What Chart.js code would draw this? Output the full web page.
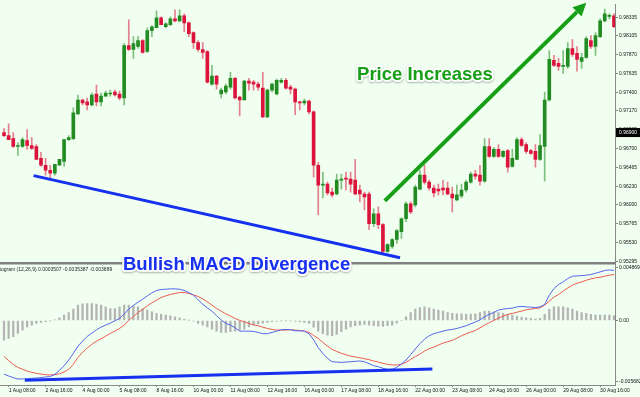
<!DOCTYPE html>
<html>
<head>
<meta charset="utf-8">
<script src="https://cdn.jsdelivr.net/npm/chart.js@4.4.1/dist/chart.umd.min.js"></script>
<style>
  html, body { margin: 0; padding: 0; background: #f0fff0; }
  #wrap { width: 640px; height: 397px; }
</style>
</head>
<body>
<div id="wrap"><canvas id="macd-chart" width="640" height="397"></canvas></div>
<script>
// H4 candles, one per bar (bar 1 = 1 Aug 08:00)
const openPrices = [
  0.96899, 0.96862, 0.96825, 0.96727, 0.96727, 0.96801, 0.96739, 0.96727, 0.96579, 0.96493,
  0.96431, 0.96394, 0.96493, 0.96542, 0.96813, 0.96825, 0.97133, 0.97305, 0.97281, 0.97244,
  0.97379, 0.97281, 0.97354, 0.97379, 0.97404, 0.97379, 0.97330, 0.97982, 0.97933, 0.97970,
  0.98044, 0.97908, 0.98167, 0.98204, 0.98327, 0.98216, 0.98241, 0.98314, 0.98290, 0.98351,
  0.98265, 0.98142, 0.98019, 0.97933, 0.97908, 0.97502, 0.97601, 0.97379, 0.97404, 0.97465,
  0.97576, 0.97342, 0.97305, 0.97539, 0.97527, 0.97502, 0.97453, 0.97096, 0.97428, 0.97379,
  0.97527, 0.97551, 0.97465, 0.97441, 0.97281, 0.97268, 0.97293, 0.97157, 0.96493, 0.96247,
  0.96259, 0.96160, 0.96136, 0.96308, 0.96333, 0.96320, 0.96308, 0.96185, 0.96136, 0.96136,
  0.95767, 0.95890, 0.95754, 0.95422, 0.95484, 0.95570, 0.95668, 0.95828, 0.96013, 0.96000,
  0.96197, 0.96370, 0.96284, 0.96210, 0.96197, 0.96210, 0.96210, 0.96136, 0.96062, 0.96111,
  0.96185, 0.96284, 0.96382, 0.96370, 0.96296, 0.96727, 0.96604, 0.96690, 0.96604, 0.96677,
  0.96480, 0.96567, 0.96813, 0.96751, 0.96677, 0.96665, 0.96567, 0.96727, 0.97305, 0.97797,
  0.97761, 0.97724, 0.97724, 0.97945, 0.97884, 0.97785, 0.97834, 0.98044, 0.97970, 0.98093,
  0.98290, 0.98345, 0.98351
];
const highPrices = [
  0.96948, 0.97010, 0.96899, 0.96776, 0.96837, 0.96936, 0.96837, 0.96751, 0.96653, 0.96579,
  0.96493, 0.96505, 0.96567, 0.96813, 0.96862, 0.97207, 0.97367, 0.97317, 0.97330, 0.97391,
  0.97490, 0.97391, 0.97416, 0.97428, 0.97428, 0.97416, 0.98007, 0.98302, 0.98093, 0.98093,
  0.98056, 0.98204, 0.98228, 0.98413, 0.98339, 0.98265, 0.98339, 0.98425, 0.98425, 0.98376,
  0.98277, 0.98154, 0.98044, 0.98019, 0.97921, 0.97736, 0.97613, 0.97453, 0.97502, 0.97650,
  0.97588, 0.97354, 0.97551, 0.97576, 0.97551, 0.97527, 0.97650, 0.97441, 0.97514, 0.97564,
  0.97576, 0.97576, 0.97490, 0.97453, 0.97293, 0.97317, 0.97305, 0.97170, 0.96530, 0.96407,
  0.96284, 0.96210, 0.96382, 0.96382, 0.96407, 0.96407, 0.96567, 0.96247, 0.96160, 0.96160,
  0.95951, 0.95976, 0.95767, 0.95520, 0.95582, 0.95693, 0.95840, 0.96037, 0.96037, 0.96247,
  0.96431, 0.96493, 0.96308, 0.96247, 0.96259, 0.96308, 0.96284, 0.96222, 0.96247, 0.96259,
  0.96308, 0.96407, 0.96431, 0.96493, 0.96825, 0.96825, 0.96714, 0.96751, 0.96677, 0.96690,
  0.96690, 0.96837, 0.96837, 0.96776, 0.96690, 0.96751, 0.96874, 0.97404, 0.97921, 0.97859,
  0.97822, 0.97921, 0.98019, 0.98056, 0.97970, 0.97884, 0.98093, 0.98105, 0.98142, 0.98314,
  0.98437, 0.98376, 0.98376
];
const lowPrices = [
  0.96850, 0.96813, 0.96714, 0.96616, 0.96714, 0.96690, 0.96690, 0.96567, 0.96480, 0.96370,
  0.96333, 0.96370, 0.96493, 0.96480, 0.96801, 0.96813, 0.97121, 0.97244, 0.97182, 0.97231,
  0.97231, 0.97231, 0.97354, 0.97354, 0.97354, 0.97305, 0.97244, 0.97921, 0.97822, 0.97945,
  0.97884, 0.97896, 0.98093, 0.98204, 0.98241, 0.98204, 0.98228, 0.98277, 0.98277, 0.98154,
  0.98093, 0.97945, 0.97908, 0.97822, 0.97514, 0.97490, 0.97441, 0.97330, 0.97379, 0.97441,
  0.97317, 0.97108, 0.97305, 0.97428, 0.97428, 0.97428, 0.97084, 0.97084, 0.97404, 0.97367,
  0.97514, 0.97441, 0.97379, 0.97121, 0.97182, 0.97244, 0.97133, 0.96345, 0.95877, 0.96087,
  0.96124, 0.96099, 0.96124, 0.96197, 0.96185, 0.96160, 0.96124, 0.96037, 0.95939, 0.95693,
  0.95730, 0.95705, 0.95398, 0.95410, 0.95459, 0.95520, 0.95582, 0.95791, 0.95890, 0.95976,
  0.96185, 0.96259, 0.96185, 0.96099, 0.96124, 0.96124, 0.96124, 0.95914, 0.96050, 0.96087,
  0.96160, 0.96271, 0.96320, 0.96247, 0.96284, 0.96591, 0.96591, 0.96591, 0.96591, 0.96407,
  0.96468, 0.96567, 0.96727, 0.96641, 0.96628, 0.96468, 0.96554, 0.96296, 0.97293, 0.97724,
  0.97674, 0.97637, 0.97699, 0.97847, 0.97662, 0.97699, 0.97822, 0.97945, 0.97859, 0.98081,
  0.98277, 0.98314, 0.98204
];
const closePrices = [
  0.96862, 0.96813, 0.96727, 0.96739, 0.96813, 0.96739, 0.96702, 0.96567, 0.96493, 0.96431,
  0.96394, 0.96505, 0.96567, 0.96813, 0.96837, 0.97145, 0.97305, 0.97268, 0.97244, 0.97367,
  0.97281, 0.97354, 0.97391, 0.97391, 0.97367, 0.97330, 0.97982, 0.97933, 0.98007, 0.98044,
  0.97896, 0.98167, 0.98216, 0.98327, 0.98241, 0.98253, 0.98314, 0.98290, 0.98351, 0.98265,
  0.98130, 0.98019, 0.97933, 0.97896, 0.97527, 0.97601, 0.97502, 0.97428, 0.97477, 0.97576,
  0.97330, 0.97305, 0.97539, 0.97514, 0.97502, 0.97465, 0.97096, 0.97428, 0.97502, 0.97551,
  0.97551, 0.97453, 0.97441, 0.97281, 0.97268, 0.97293, 0.97157, 0.96493, 0.96247, 0.96259,
  0.96148, 0.96124, 0.96308, 0.96320, 0.96320, 0.96259, 0.96136, 0.96136, 0.96099, 0.95767,
  0.95890, 0.95754, 0.95422, 0.95508, 0.95570, 0.95680, 0.95828, 0.96013, 0.95914, 0.96222,
  0.96370, 0.96284, 0.96210, 0.96148, 0.96173, 0.96185, 0.96136, 0.96087, 0.96124, 0.96185,
  0.96284, 0.96382, 0.96357, 0.96296, 0.96727, 0.96604, 0.96690, 0.96604, 0.96665, 0.96468,
  0.96579, 0.96813, 0.96739, 0.96665, 0.96641, 0.96567, 0.96739, 0.97305, 0.97810, 0.97736,
  0.97724, 0.97736, 0.97945, 0.97871, 0.97810, 0.97834, 0.98068, 0.97970, 0.98105, 0.98290,
  0.98376, 0.98357, 0.98216
];

// MACD Histogram (12,26,9): main line, signal line, histogram
const macdMain = [
  -0.00497, -0.00515, -0.00531, -0.00543, -0.00543, -0.00540, -0.00537, -0.00534, -0.00531, -0.00524,
  -0.00521, -0.00500, -0.00463, -0.00420, -0.00367, -0.00305, -0.00238, -0.00191, -0.00148, -0.00117,
  -0.00086, -0.00062, -0.00043, -0.00025, -0.00003, 0.00019, 0.00059, 0.00105, 0.00139, 0.00170,
  0.00197, 0.00228, 0.00256, 0.00278, 0.00287, 0.00290, 0.00293, 0.00293, 0.00290, 0.00278,
  0.00259, 0.00234, 0.00191, 0.00151, 0.00117, 0.00086, 0.00043, 0.00006, -0.00028, -0.00043,
  -0.00068, -0.00099, -0.00099, -0.00099, -0.00102, -0.00111, -0.00123, -0.00123, -0.00111, -0.00099,
  -0.00086, -0.00083, -0.00086, -0.00096, -0.00096, -0.00099, -0.00123, -0.00179, -0.00253, -0.00305,
  -0.00352, -0.00383, -0.00386, -0.00389, -0.00386, -0.00383, -0.00379, -0.00376, -0.00383, -0.00401,
  -0.00420, -0.00429, -0.00444, -0.00453, -0.00453, -0.00435, -0.00404, -0.00367, -0.00318, -0.00265,
  -0.00216, -0.00173, -0.00142, -0.00123, -0.00111, -0.00099, -0.00089, -0.00083, -0.00074, -0.00062,
  -0.00049, -0.00031, -0.00015, 0.00006, 0.00034, 0.00056, 0.00074, 0.00096, 0.00105, 0.00111,
  0.00114, 0.00126, 0.00130, 0.00126, 0.00123, 0.00120, 0.00126, 0.00148, 0.00234, 0.00296,
  0.00333, 0.00358, 0.00389, 0.00410, 0.00413, 0.00416, 0.00420, 0.00426, 0.00438, 0.00450,
  0.00463, 0.00469, 0.00463
];
const macdSignal = [
  -0.00333, -0.00373, -0.00407, -0.00435, -0.00453, -0.00469, -0.00481, -0.00491, -0.00497, -0.00503,
  -0.00506, -0.00503, -0.00494, -0.00478, -0.00453, -0.00407, -0.00342, -0.00296, -0.00256, -0.00222,
  -0.00191, -0.00170, -0.00145, -0.00120, -0.00099, -0.00074, -0.00043, 0.00000, 0.00037, 0.00074,
  0.00102, 0.00136, 0.00164, 0.00188, 0.00213, 0.00228, 0.00241, 0.00250, 0.00259, 0.00259,
  0.00250, 0.00238, 0.00222, 0.00201, 0.00173, 0.00142, 0.00111, 0.00086, 0.00062, 0.00040,
  0.00019, 0.00000, -0.00012, -0.00028, -0.00040, -0.00049, -0.00062, -0.00074, -0.00083, -0.00089,
  -0.00089, -0.00089, -0.00086, -0.00089, -0.00093, -0.00099, -0.00111, -0.00139, -0.00167, -0.00204,
  -0.00238, -0.00268, -0.00287, -0.00305, -0.00318, -0.00330, -0.00339, -0.00346, -0.00355, -0.00364,
  -0.00376, -0.00386, -0.00398, -0.00407, -0.00413, -0.00413, -0.00407, -0.00389, -0.00361, -0.00336,
  -0.00312, -0.00284, -0.00262, -0.00247, -0.00228, -0.00210, -0.00197, -0.00185, -0.00164, -0.00142,
  -0.00123, -0.00108, -0.00093, -0.00068, -0.00043, -0.00022, 0.00000, 0.00022, 0.00040, 0.00056,
  0.00065, 0.00077, 0.00086, 0.00099, 0.00105, 0.00111, 0.00117, 0.00142, 0.00179, 0.00216,
  0.00241, 0.00271, 0.00302, 0.00327, 0.00346, 0.00358, 0.00373, 0.00386, 0.00395, 0.00401,
  0.00410, 0.00420, 0.00426
];
const macdHist = [
  -0.00182, -0.00167, -0.00151, -0.00120, -0.00089, -0.00059, -0.00043, -0.00028, -0.00019, -0.00012,
  -0.00003, 0.00006, 0.00025, 0.00049, 0.00074, 0.00105, 0.00142, 0.00154, 0.00157, 0.00157,
  0.00151, 0.00142, 0.00126, 0.00111, 0.00111, 0.00126, 0.00142, 0.00142, 0.00136, 0.00126,
  0.00111, 0.00096, 0.00080, 0.00065, 0.00056, 0.00049, 0.00043, 0.00034, 0.00025, 0.00012,
  0.00003, -0.00006, -0.00028, -0.00043, -0.00059, -0.00080, -0.00099, -0.00111, -0.00111, -0.00105,
  -0.00099, -0.00089, -0.00080, -0.00059, -0.00043, -0.00031, -0.00025, -0.00019, -0.00012, -0.00006,
  -0.00003, -0.00003, -0.00003, -0.00006, -0.00012, -0.00019, -0.00028, -0.00062, -0.00099, -0.00123,
  -0.00136, -0.00142, -0.00130, -0.00105, -0.00080, -0.00059, -0.00049, -0.00043, -0.00037, -0.00043,
  -0.00049, -0.00052, -0.00056, -0.00049, -0.00043, -0.00025, 0.00000, 0.00034, 0.00074, 0.00105,
  0.00120, 0.00126, 0.00117, 0.00105, 0.00096, 0.00086, 0.00074, 0.00065, 0.00062, 0.00062,
  0.00059, 0.00059, 0.00062, 0.00074, 0.00086, 0.00086, 0.00080, 0.00074, 0.00065, 0.00056,
  0.00049, 0.00040, 0.00031, 0.00025, 0.00019, 0.00012, 0.00019, 0.00056, 0.00105, 0.00126,
  0.00126, 0.00126, 0.00117, 0.00105, 0.00086, 0.00074, 0.00065, 0.00056, 0.00049, 0.00049,
  0.00049, 0.00049, 0.00043
];

// axis ticks
const timeLabels = [
  "1 Aug 08:00", "2 Aug 16:00", "4 Aug 00:00", "5 Aug 08:00", "8 Aug 16:00", "10 Aug 00:00",
  "11 Aug 08:00", "12 Aug 16:00", "16 Aug 00:00", "17 Aug 08:00", "18 Aug 16:00", "22 Aug 00:00",
  "23 Aug 08:00", "24 Aug 16:00", "26 Aug 00:00", "29 Aug 08:00", "30 Aug 16:00"
];
const timeTickBars = [1, 9, 17, 25, 33, 41, 49, 57, 65, 73, 81, 89, 97, 105, 113, 121, 129];
const priceTicks = [
  0.98335, 0.98105, 0.97870, 0.97635, 0.97400, 0.97170, 0.96935,
  0.96700, 0.96465, 0.96230, 0.96000, 0.95765, 0.95530, 0.95295
];
const macdTicks = [0.004869, 0, -0.005682];
const macdTickText = ["0.004869", "0.00", "-0.005682"];
const markedPrice = 0.969;

// hand-drawn annotations, as [bar, value]
const priceDivergence = [[6.4, 0.96364], [85.7, 0.95342]];
const macdDivergence = [[4.5, -0.00555], [92.7, -0.00451]];
const priceArrow = [[82.4, 0.96050], [124.0, 0.98401]];
const priceLabelAt = [76.4, 0.97551];
const macdLabelAt = [25.75, 0.004655];

const FONT = '"Liberation Sans", Arial, sans-serif';
const BULL = "#228b22";
const BEAR = "#dc143c";
const NOTE_BLUE = "#1530ee";
const NOTE_GREEN = "#17a017";

const bars = openPrices.map((o, i) => i);
const isUp = bars.map(i => closePrices[i] >= openPrices[i]);
const toXY = pts => pts.map(([x, y]) => ({ x, y }));

function haloText(ctx, text, px, py, color) {
  ctx.save();
  ctx.font = `bold 18.5px ${FONT}`;
  ctx.textBaseline = "alphabetic";
  ctx.lineJoin = "round";
  ctx.shadowColor = "rgba(0,0,0,0.3)";
  ctx.shadowBlur = 2;
  ctx.shadowOffsetY = 1;
  ctx.strokeStyle = "rgba(255,255,255,0.95)";
  ctx.lineWidth = 4;
  ctx.strokeText(text, px, py);
  ctx.shadowColor = "transparent";
  ctx.fillStyle = color;
  ctx.fillText(text, px, py);
  ctx.restore();
}

const overlay = {
  id: "overlay",
  beforeDraw(chart) {
    const { ctx, width, height } = chart;
    ctx.save();
    ctx.fillStyle = "#f0fff0";
    ctx.fillRect(0, 0, width, height);
    ctx.restore();
  },
  afterDraw(chart) {
    const { ctx, chartArea, scales } = chart;
    const { x, y, y2 } = scales;
    ctx.save();

    // pane separator
    ctx.strokeStyle = "#808080";
    ctx.lineWidth = 2.5;
    ctx.beginPath();
    ctx.moveTo(0, y.bottom);
    ctx.lineTo(chartArea.right, y.bottom);
    ctx.stroke();

    // indicator title, its start is cut off by the left edge
    ctx.font = `5px ${FONT}`;
    ctx.fillStyle = "#222";
    ctx.textBaseline = "alphabetic";
    const title = "MACD Histogram (12,26,9) 0.0003507 -0.0035387 -0.003889";
    ctx.fillText(title, 1 - ctx.measureText("MACD Hist").width, y2.top + 8);

    // arrow head on the green line
    const arrow = chart.getDatasetMeta(2).data;
    const p0 = arrow[0], p1 = arrow[arrow.length - 1];
    const ang = Math.atan2(p1.y - p0.y, p1.x - p0.x);
    const len = 13, half = 6.5;
    ctx.fillStyle = NOTE_GREEN;
    ctx.beginPath();
    ctx.moveTo(p1.x + Math.cos(ang) * len, p1.y + Math.sin(ang) * len);
    ctx.lineTo(p1.x + Math.cos(ang + Math.PI / 2) * half, p1.y + Math.sin(ang + Math.PI / 2) * half);
    ctx.lineTo(p1.x + Math.cos(ang - Math.PI / 2) * half, p1.y + Math.sin(ang - Math.PI / 2) * half);
    ctx.closePath();
    ctx.fill();

    // marked price box on the axis
    const by = y.getPixelForValue(markedPrice);
    ctx.fillStyle = "#000";
    ctx.fillRect(chartArea.right + 1, by - 4.5, 25, 9);
    ctx.fillStyle = "#fff";
    ctx.font = `5px ${FONT}`;
    ctx.textBaseline = "middle";
    ctx.fillText(markedPrice.toFixed(5), chartArea.right + 4, by + 0.5);
    ctx.restore();

    haloText(ctx, "Price Increases", x.getPixelForValue(priceLabelAt[0]), y.getPixelForValue(priceLabelAt[1]), NOTE_GREEN);
    haloText(ctx, "Bullish MACD Divergence", x.getPixelForValue(macdLabelAt[0]), y2.getPixelForValue(macdLabelAt[1]), NOTE_BLUE);
  },
};

const tickFont = { size: 5, family: FONT };

new Chart(document.getElementById("macd-chart"), {
  type: "bar",
  data: {
    datasets: [
      {
        type: "line", order: 0, yAxisID: "y",
        data: toXY(priceDivergence),
        borderColor: NOTE_BLUE, borderWidth: 3, pointRadius: 0,
      },
      {
        type: "line", order: 0, yAxisID: "y2",
        data: toXY(macdDivergence),
        borderColor: NOTE_BLUE, borderWidth: 3, pointRadius: 0,
      },
      {
        type: "line", order: 0, yAxisID: "y",
        data: toXY(priceArrow),
        borderColor: NOTE_GREEN, borderWidth: 4, pointRadius: 0,
      },
      {
        type: "line", order: 1, yAxisID: "y2",
        data: bars.map(i => ({ x: i, y: macdMain[i] })),
        borderColor: "#5566ee", borderWidth: 1, pointRadius: 0,
      },
      {
        type: "line", order: 1, yAxisID: "y2",
        data: bars.map(i => ({ x: i, y: macdSignal[i] })),
        borderColor: "#ee5a50", borderWidth: 1, pointRadius: 0,
      },
      {
        order: 2, yAxisID: "y2", grouped: false,
        data: bars.map(i => ({ x: i, y: macdHist[i] })),
        backgroundColor: "#b4b4b4", barThickness: 1.6,
      },
      {
        order: 3, yAxisID: "y", grouped: false,
        data: bars.map(i => ({ x: i, y: [openPrices[i], closePrices[i]] })),
        backgroundColor: bars.map(i => (isUp[i] ? BULL : BEAR)),
        barThickness: 3, minBarLength: 1,
      },
      {
        order: 4, yAxisID: "y", grouped: false,
        data: bars.map(i => ({ x: i, y: [lowPrices[i], highPrices[i]] })),
        backgroundColor: bars.map(i => (isUp[i] ? "rgba(34,139,34,0.55)" : "rgba(220,20,60,0.55)")),
        barThickness: 1,
      },
    ],
  },
  options: {
    responsive: false,
    animation: false,
    events: [],
    layout: { padding: 0, autoPadding: false },
    plugins: { legend: { display: false }, tooltip: { enabled: false } },
    scales: {
      x: {
        type: "linear", min: -0.87, max: 132.22, offset: false,
        afterBuildTicks: s => { s.ticks = timeTickBars.map(v => ({ value: v })); },
        afterFit: s => { s.height = 12; },
        ticks: {
          callback: (v, i) => timeLabels[i],
          autoSkip: false, maxRotation: 0, align: "start", padding: 1,
          font: tickFont, color: "#111",
        },
        grid: { drawOnChartArea: false, tickLength: 2, color: "#888", offset: false },
        border: { color: "#888" },
      },
      y: {
        position: "right", stack: "pane", stackWeight: 262,
        min: 0.95274, max: 0.98499,
        afterBuildTicks: s => { s.ticks = priceTicks.map(v => ({ value: v })); },
        afterFit: s => { s.width = 25; },
        ticks: { callback: v => v.toFixed(5), font: tickFont, color: "#111", padding: 1 },
        grid: { drawOnChartArea: false, tickLength: 3, color: "#888" },
        border: { color: "#888" },
      },
      y2: {
        position: "right", stack: "pane", stackWeight: 123,
        min: -0.005987, max: 0.005304,
        afterBuildTicks: s => { s.ticks = macdTicks.map(v => ({ value: v })); },
        afterFit: s => { s.width = 25; },
        ticks: { callback: (v, i) => macdTickText[i], font: tickFont, color: "#111", padding: 1 },
        grid: { drawOnChartArea: false, tickLength: 3, color: "#888" },
        border: { color: "#888" },
      },
    },
  },
  plugins: [overlay],
});
</script>
</body>
</html>
